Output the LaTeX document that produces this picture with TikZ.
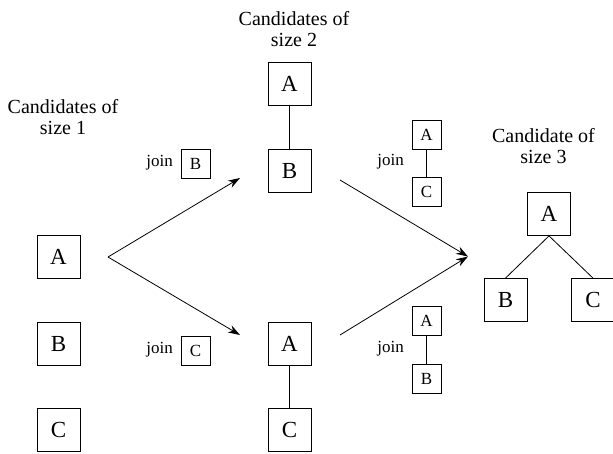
\documentclass[tikz,border=0pt]{standalone}
\usepackage{fontspec}
\setmainfont{Liberation Serif}
\usetikzlibrary{arrows.meta}
\begin{document}
\begin{tikzpicture}[x=1pt,y=-1pt,
  bigbox/.style={draw,line width=0.8pt,minimum size=43pt,inner sep=0pt,
    font=\fontsize{23}{23}\selectfont},
  smallbox/.style={draw,line width=0.8pt,minimum size=29pt,inner sep=0pt,
    font=\fontsize{17}{17}\selectfont},
  joinlabel/.style={anchor=base east,inner sep=0pt,font=\fontsize{17}{17}\selectfont},
  heading/.style={align=center,anchor=north,inner sep=0pt,
    font=\fontsize{20}{21}\selectfont},
  link/.style={line width=0.8pt},
  flow/.style={line width=0.8pt,-{Stealth[length=12pt,width=8pt]}}]
\useasboundingbox (0,0) rectangle (613,453);

% headings
\node[heading] (h1) at (63,99) {Candidates of\\size 1};
\node[heading] (h2) at (294,11) {Candidates of\\size 2};
\node[heading] (h3) at (543.5,128) {Candidate of\\size 3};

% candidates of size 1
\node[bigbox] (s1a) at (58.5,256.5) {A};
\node[bigbox] (s1b) at (58.5,343.5) {B};
\node[bigbox] (s1c) at (58.5,429.5) {C};

% join operands for size 2
\node[smallbox] (jb) at (195.5,163.5) {B};
\node[joinlabel] (jbl) at (173,166) {join};
\node[smallbox] (jc) at (195.5,350.5) {C};
\node[joinlabel] (jcl) at (173,353) {join};

% candidates of size 2
\node[bigbox] (t2a) at (289.5,84) {A};
\node[bigbox] (t2b) at (289.5,170.5) {B};
\draw[link] (t2a) -- (t2b);
\node[bigbox] (b2a) at (289.5,343.5) {A};
\node[bigbox] (b2c) at (289.5,429.5) {C};
\draw[link] (b2a) -- (b2c);

% join operands for size 3
\node[smallbox] (ra1) at (426.5,134.5) {A};
\node[smallbox] (rc1) at (426.5,191.5) {C};
\draw[link] (ra1) -- (rc1);
\node[joinlabel] (rl1) at (404,165) {join};
\node[smallbox] (ra2) at (426.5,321) {A};
\node[smallbox] (rb2) at (426.5,378.5) {B};
\draw[link] (ra2) -- (rb2);
\node[joinlabel] (rl2) at (404,352) {join};

% candidate of size 3
\node[bigbox] (t3a) at (549,214) {A};
\node[bigbox] (t3b) at (505.5,300) {B};
\node[bigbox] (t3c) at (593,300) {C};
\draw[link] (t3a.south) -- (t3b.north);
\draw[link] (t3a.south) -- (t3c.north);

% flow arrows
\coordinate (fork) at (108,257);
\coordinate (up) at (240,178);
\coordinate (down) at (240,335);
\coordinate (from1) at (340,180);
\coordinate (from2) at (340,335);
\coordinate (merge) at (468,256.5);
\draw[flow] (fork) -- (up);
\draw[flow] (fork) -- (down);
\draw[flow] (from1) -- (merge);
\draw[flow] (from2) -- (merge);
\end{tikzpicture}
\end{document}
